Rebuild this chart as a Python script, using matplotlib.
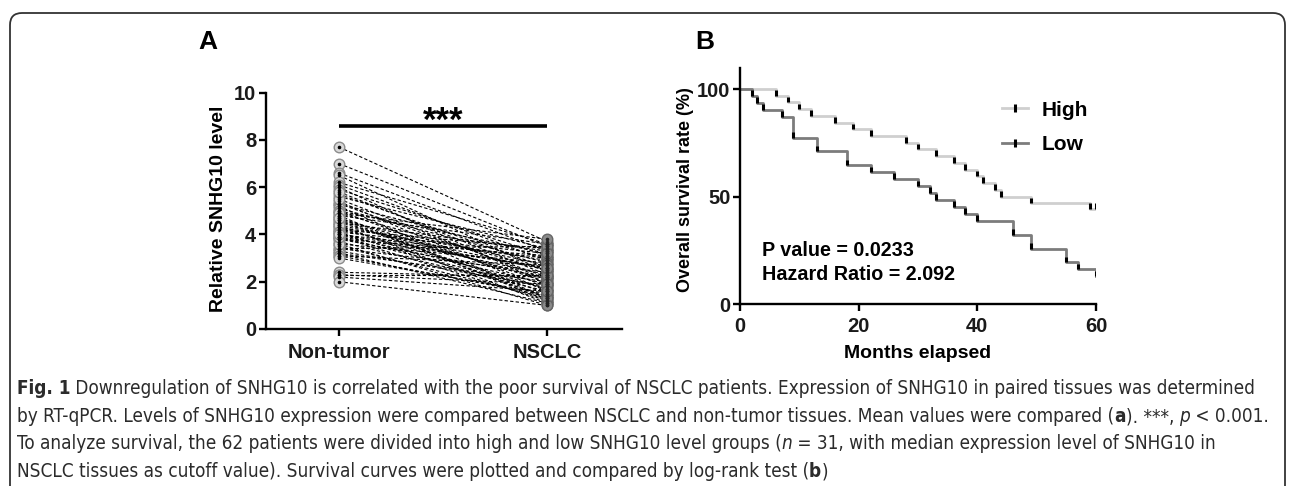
import matplotlib
matplotlib.use("Agg")
import matplotlib.pyplot as plt
from matplotlib.patches import FancyBboxPatch
from matplotlib.lines import Line2D
from matplotlib.transforms import IdentityTransform
from matplotlib import font_manager
from matplotlib.font_manager import FontProperties

# ---------------- data ----------------
group_labels = ["Non-tumor", "NSCLC"]
nontumor = [7.7, 7.0, 6.6, 6.5, 6.2, 6.1, 6.0, 5.9, 5.7, 5.6, 5.4, 5.3, 5.3, 5.2, 5.1,
            5.0, 5.0, 4.9, 4.8, 4.8, 4.7, 4.6, 4.6, 4.5, 4.5, 4.4, 4.3, 4.3, 4.2, 4.2,
            4.1, 4.0, 4.0, 3.9, 3.9, 3.8, 3.8, 3.7, 3.6, 3.5, 3.4, 3.4, 3.3, 3.2, 3.2,
            3.1, 3.1, 3.0, 4.9, 4.4, 5.5, 3.6, 4.1, 3.9, 4.7, 5.8, 2.4, 2.3, 2.3, 2.2,
            2.0, 4.0]
nsclc = [3.7, 3.5, 3.3, 2.4, 3.6, 2.9, 1.9, 3.1, 2.6, 3.4, 1.6, 2.2, 3.0, 1.3, 2.8,
         3.2, 1.8, 2.5, 1.2, 3.6, 2.0, 2.7, 1.5, 3.3, 2.1, 1.1, 2.9, 1.7, 3.4, 2.3,
         1.4, 3.0, 1.9, 2.6, 1.2, 3.1, 2.2, 1.6, 2.8, 1.3, 3.5, 2.4, 1.8, 1.1, 2.0,
         1.4, 2.7, 1.5, 3.8, 2.5, 2.1, 1.0, 3.2, 1.7, 1.3, 2.3, 2.2, 2.3, 1.9, 1.6,
         1.0, 2.6]
sig_level = 8.6
sig_text = "***"

follow_up_end = 60
high_times = [0, 6.1, 8.1, 10.0, 12.0, 16.0, 19.0, 22.0, 28.0, 30.0, 33.0, 36.0, 38.0,
              40.0, 41.0, 43.0, 44.0, 49.0, 59.0, 60.0]
high_surv = [100, 96.9, 93.8, 90.6, 87.5, 84.4, 81.3, 78.1, 75.0, 71.9, 68.8, 65.6, 62.5,
             59.4, 56.3, 53.1, 50.0, 46.9, 44.4, 44.4]
low_times = [0, 2.0, 2.9, 3.9, 7.0, 9.0, 13.0, 18.0, 22.0, 26.0, 30.0, 32.0, 33.0, 36.0,
             38.0, 40.0, 46.0, 49.0, 55.0, 57.0, 60.0]
low_surv = [100, 96.8, 93.5, 90.3, 87.1, 77.4, 71.0, 64.5, 61.3, 58.1, 54.8, 51.6, 48.4,
            45.2, 41.9, 38.7, 32.3, 25.8, 19.4, 16.1, 12.9]
km_stats = "P value = 0.0233\nHazard Ratio = 2.092"

caption_lines = [
    [("Fig. 1", "b"), (" Downregulation of SNHG10 is correlated with the poor survival of NSCLC patients. "
                       "Expression of SNHG10 in paired tissues was determined", "r")],
    [("by RT-qPCR. Levels of SNHG10 expression were compared between NSCLC and non-tumor tissues. "
      "Mean values were compared (", "r"), ("a", "b"), ("). ***, ", "r"), ("p", "i"), (" < 0.001.", "r")],
    [("To analyze survival, the 62 patients were divided into high and low SNHG10 level groups (", "r"),
     ("n", "i"), (" = 31, with median expression level of SNHG10 in", "r")],
    [("NSCLC tissues as cutoff value). Survival curves were plotted and compared by log-rank test (", "r"),
     ("b", "b"), (")", "r")],
]

# ---------------- figure ----------------
W, H = 1290, 486
plt.rcParams["font.family"] = ["Liberation Sans", "DejaVu Sans"]
fig = plt.figure(figsize=(W / 100, H / 100), dpi=100)
fig.patch.set_facecolor("white")

def fx(px):
    return px / W

def fy(py):
    return 1 - py / H

bold = dict(fontweight="bold")
tick_col = "#1a1a1a"
lab_size = 14.5

# ---------------- panel A ----------------
axA = fig.add_axes([fx(266), fy(329), 356 / W, (329 - 92.7) / H])
for a, b in zip(nontumor, nsclc):
    axA.plot([0, 1], [a, b], color="black", lw=0.8, ls=(0, (3, 2)), zorder=1)
axA.scatter([0] * len(nontumor), nontumor, s=58, facecolor="#d9d9d9",
            edgecolor="#8c8c8c", linewidth=1.0, zorder=3)
axA.scatter([1] * len(nsclc), nsclc, s=58, facecolor="#8a8a8a",
            edgecolor="#666666", linewidth=1.0, zorder=3)
axA.scatter([0] * len(nontumor), nontumor, s=2.5, color="black", zorder=4)
axA.scatter([1] * len(nsclc), nsclc, s=2.5, color="#222222", zorder=4)
axA.plot([0, 1], [sig_level, sig_level], color="black", lw=2.6, solid_capstyle="butt", zorder=2)
axA.text(0.5, sig_level - 0.5, sig_text, ha="center", va="bottom", fontsize=25, **bold)
axA.set_xlim(-0.351, 1.361)
axA.set_ylim(0, 10)
axA.set_yticks([0, 2, 4, 6, 8, 10])
axA.set_xticks([0, 1])
axA.set_xticklabels(group_labels)

# ---------------- panel B ----------------
axB = fig.add_axes([fx(740), fy(304), 356 / W, (304 - 67.5) / H])
high_col = "#cfcfcf"
low_col = "#7c7c7c"
for times, surv, col in [(high_times, high_surv, high_col), (low_times, low_surv, low_col)]:
    axB.step(list(times) + [follow_up_end], list(surv) + [surv[-1]], where="post",
             color=col, lw=2.0, zorder=2)
    axB.vlines(times[1:], surv[1:], [s + 2.6 for s in surv[1:]], colors="black",
               lw=2.2, zorder=3)
axB.set_xlim(0, 60)
axB.set_ylim(0, 110)
axB.set_xticks([0, 20, 40, 60])
axB.set_yticks([0, 50, 100])
axB.text(0.062, 0.175, km_stats, transform=axB.transAxes, ha="left", va="center",
         fontsize=14.2, linespacing=1.3, **bold)

handles = [Line2D([], [], color=high_col, lw=2.0, marker="|", markersize=6,
                  markeredgewidth=2.2, markeredgecolor="black"),
           Line2D([], [], color=low_col, lw=2.0, marker="|", markersize=6,
                  markeredgewidth=2.2, markeredgecolor="black")]
leg = axB.legend(handles, ["High", "Low"], loc="upper left", bbox_to_anchor=(0.737, 0.86),
                 frameon=False, handlelength=1.25, handletextpad=0.65, labelspacing=0.75,
                 prop=FontProperties(family="Liberation Sans", weight="bold", size=15),
                 borderaxespad=0, borderpad=0)

for ax in (axA, axB):
    for s in ("top", "right"):
        ax.spines[s].set_visible(False)
    for s in ("left", "bottom"):
        ax.spines[s].set_linewidth(1.7)
        ax.spines[s].set_color("black")
    ax.tick_params(axis="both", length=5, width=1.7, labelsize=lab_size, pad=2,
                   colors="black", labelcolor=tick_col)
    for lbl in ax.get_xticklabels() + ax.get_yticklabels():
        lbl.set_fontweight("bold")
axA.tick_params(axis="x", pad=5)
axB.tick_params(axis="x", pad=4)

# axis labels & panel letters
fig.text(fx(218), fy(209), "Relative SNHG10 level", rotation=90, ha="center", va="center",
         fontsize=14, **bold)
fig.text(fx(685), fy(190), "Overall survival rate (%)", rotation=90, ha="center", va="center",
         fontsize=13, **bold)
fig.text(fx(918), fy(353), "Months elapsed", ha="center", va="center", fontsize=14, **bold)
fig.text(fx(208), fy(42), "A", ha="center", va="center", fontsize=19, **bold)
fig.text(fx(705), fy(42), "B", ha="center", va="center", fontsize=19, **bold)

# border
border = FancyBboxPatch((10, -40), 1275, (H - 13) + 40, boxstyle="round,pad=0,rounding_size=12",
                        transform=IdentityTransform(), facecolor="none", edgecolor="#333333",
                        lw=1.3)
fig.add_artist(border)

# ---------------- caption ----------------
cap_family = "Liberation Sans"
cap_stretch = "normal"
names = {f.name for f in font_manager.fontManager.ttflist}
if "Liberation Sans Narrow" in names:
    cap_family = "Liberation Sans Narrow"
else:
    for f in font_manager.fontManager.ttflist:
        if f.name in ("DejaVu Sans", "Open Sans", "Noto Sans") and str(f.stretch) in ("condensed", "semi-condensed"):
            cap_family = f.name
            cap_stretch = f.stretch
            break

renderer = fig.canvas.get_renderer()

def props(style, size):
    return FontProperties(family=[cap_family, "DejaVu Sans"], stretch=cap_stretch, size=size,
                          weight="bold" if style == "b" else "normal",
                          style="italic" if style == "i" else "normal")

def width(txt, style, size):
    fp = props(style, size)
    w1 = renderer.get_text_width_height_descent("|" + txt + "|", fp, ismath=False)[0]
    w0 = renderer.get_text_width_height_descent("||", fp, ismath=False)[0]
    return w1 - w0

base = 10.0
w_max = max(sum(width(t, s, base) for t, s in ln) for ln in caption_lines[:2])
cap_size = base * (1256.0 / w_max)

baselines = [394, 422, 449, 477]
for line, yb in zip(caption_lines, baselines):
    x = 17.0
    for txt, style in line:
        fp = props(style, cap_size)
        fig.text(fx(x), fy(yb), txt, fontproperties=fp, ha="left", va="baseline", color="#2b2b2b")
        x += width(txt, style, cap_size)

fig.savefig("out.png", dpi=100, facecolor="white")
